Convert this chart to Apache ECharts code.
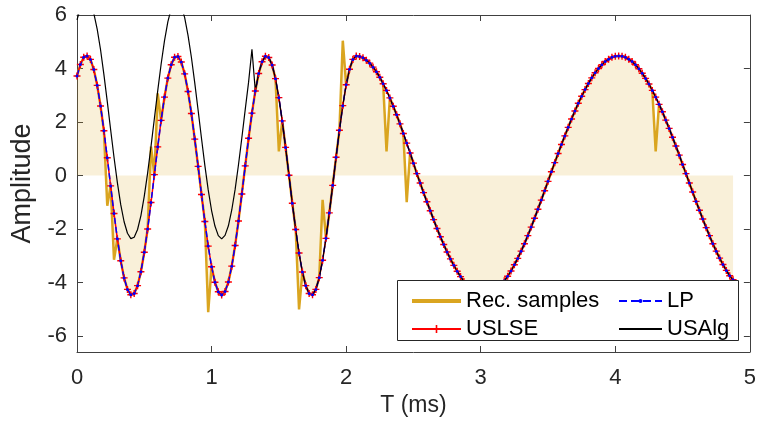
<!DOCTYPE html>
<html>
<head>
<meta charset="utf-8">
<script src="https://cdn.jsdelivr.net/npm/echarts@6/dist/echarts.min.js"></script>
<style>
  html, body { margin: 0; padding: 0; background: #fff; }
  #chart { width: 759px; height: 430px; }
</style>
</head>
<body>
<div id="chart"></div>
<script>
// time step between samples (ms)
const sampleStep = 0.025;

// LP / USLSE reconstruction (one value per sample)
const signal = [
  3.72, 4.15, 4.42, 4.47, 4.34, 3.96, 3.37, 2.60, 1.67, 0.66,
  -0.39, -1.42, -2.37, -3.19, -3.83, -4.26, -4.46, -4.41, -4.12, -3.60,
  -2.87, -2.00, -1.01, 0.03, 1.07, 2.06, 2.93, 3.64, 4.14, 4.42,
  4.45, 4.24, 3.80, 3.14, 2.32, 1.36, 0.34, -0.71, -1.72, -2.64,
  -3.41, -3.99, -4.35, -4.47, -4.34, -3.98, -3.39, -2.62, -1.70, -0.69,
  0.36, 1.39, 2.33, 3.16, 3.81, 4.25, 4.46, 4.41, 4.13, 3.62,
  2.91, 2.04, 1.05, 0.01, -1.04, -2.02, -2.90, -3.61, -4.12, -4.41,
  -4.46, -4.26, -3.82, -3.17, -2.35, -1.40, -0.37, 0.68, 1.69, 2.61,
  3.39, 3.97, 4.34, 4.47, 4.45, 4.40, 4.31, 4.20, 4.05, 3.88,
  3.67, 3.43, 3.18, 2.90, 2.59, 2.27, 1.93, 1.57, 1.21, 0.84,
  0.46, 0.07, -0.28, -0.64, -0.98, -1.32, -1.65, -1.98, -2.29, -2.58,
  -2.86, -3.12, -3.36, -3.58, -3.78, -3.96, -4.11, -4.23, -4.33, -4.39,
  -4.44, -4.45, -4.44, -4.39, -4.32, -4.22, -4.10, -3.94, -3.77, -3.57,
  -3.34, -3.10, -2.83, -2.55, -2.25, -1.93, -1.60, -1.26, -0.92, -0.57,
  -0.22, 0.14, 0.48, 0.82, 1.16, 1.48, 1.80, 2.11, 2.41, 2.70,
  2.96, 3.21, 3.44, 3.65, 3.84, 4.00, 4.14, 4.26, 4.35, 4.42,
  4.46, 4.47, 4.46, 4.42, 4.35, 4.26, 4.14, 3.99, 3.82, 3.63,
  3.42, 3.18, 2.93, 2.66, 2.38, 2.07, 1.76, 1.43, 1.10, 0.76,
  0.41, 0.07, -0.28, -0.62, -0.97, -1.30, -1.63, -1.95, -2.25, -2.55,
  -2.83, -3.09, -3.33, -3.55, -3.75, -3.90
];

// USAlg before it locks onto the signal (t = 0 .. 1.3 ms)
const usalgHead = [
  5.82, 6.25, 6.52, 6.57, 6.44, 6.06, 5.47, 4.70, 3.77, 2.76,
  1.71, 0.68, -0.27, -1.09, -1.73, -2.16, -2.36, -2.31, -2.02, -1.50,
  -0.77, 0.10, 1.09, 2.13, 3.17, 4.16, 5.03, 5.74, 6.24, 6.52,
  6.55, 6.34, 5.90, 5.24, 4.42, 3.46, 2.44, 1.39, 0.38, -0.54,
  -1.31, -1.89, -2.25, -2.37, -2.24, -1.88, -1.29, -0.52, 0.40, 1.41,
  2.46, 3.49, 4.72
];

// bad recovered samples (spikes)
const spikeTimes = [0.225, 0.275, 0.55, 0.6, 0.975, 1.5, 1.65, 1.825, 1.975, 2.3, 2.45, 4.3];
const spikeValues = [-1.13, -3.15, 1.08, 3.07, -5.11, 0.9, -5.01, -0.91, 5.04, 0.9, -1.0, 0.9];

const yTicks = [-6, -4, -2, 0, 2, 4, 6];

const times = signal.map((v, i) => +(i * sampleStep).toFixed(3));
const recValues = signal.slice();
spikeTimes.forEach((t, k) => { recValues[Math.round(t / sampleStep)] = spikeValues[k]; });

const recData = times.map((t, i) => [t, recValues[i]]);
const lpData = times.map((t, i) => [t, signal[i]]);
const uslseData = times.map((t, i) => [t, signal[i]]);
const usalgData = times.map((t, i) => [t, i < usalgHead.length ? usalgHead[i] : signal[i]]);

const font = 'Liberation Sans, Arial, Helvetica, sans-serif';
const axisCol = '#404040';
const plusSymbol = 'path://M4,0H6V10H4Z M0,4H10V6H0Z';
const legendText = { fontSize: 22, color: '#000', fontFamily: font, lineHeight: 24 };

const chart = echarts.init(document.getElementById('chart'));
chart.setOption({
  animation: false,
  backgroundColor: '#fff',
  grid: { left: 77, right: 8, top: 15, bottom: 78 },
  xAxis: [
    {
      type: 'value', min: 0, max: 5, interval: 1,
      name: 'T (ms)', nameLocation: 'middle', nameGap: 40,
      nameTextStyle: { fontSize: 23, color: '#262626', fontFamily: font },
      axisLine: { onZero: false, lineStyle: { color: axisCol } },
      axisTick: { inside: true, length: 6, lineStyle: { color: axisCol } },
      axisLabel: { fontSize: 22, color: '#262626', fontFamily: font, margin: 15 },
      splitLine: { show: false }
    },
    {
      type: 'value', min: 0, max: 5, interval: 1, position: 'top',
      axisLine: { onZero: false, lineStyle: { color: axisCol } },
      axisTick: { inside: true, length: 6, lineStyle: { color: axisCol } },
      axisLabel: { show: false },
      splitLine: { show: false }
    }
  ],
  yAxis: [
    {
      type: 'value', min: -6.6, max: 6,
      name: 'Amplitude', nameLocation: 'middle', nameGap: 40,
      nameTextStyle: { fontSize: 27, color: '#262626', fontFamily: font },
      axisLine: { show: true, onZero: false, lineStyle: { color: axisCol } },
      axisTick: { show: true, inside: true, length: 6, customValues: yTicks, lineStyle: { color: axisCol } },
      axisLabel: { fontSize: 22, color: '#262626', fontFamily: font, margin: 10, customValues: yTicks },
      splitLine: { show: false }
    },
    {
      type: 'value', min: -6.6, max: 6, position: 'right',
      axisLine: { show: true, onZero: false, lineStyle: { color: axisCol } },
      axisTick: { show: true, inside: true, length: 6, customValues: yTicks, lineStyle: { color: axisCol } },
      axisLabel: { show: false },
      splitLine: { show: false }
    }
  ],
  legend: [
    {
      data: [
        { name: 'Rec. samples', lineStyle: { width: 4 } },
        { name: 'USLSE' }
      ],
      orient: 'vertical', left: 405, top: 284, z: 20,
      itemWidth: 49, itemHeight: 10, itemGap: 4,
      textStyle: legendText
    },
    {
      data: ['LP', 'USAlg'],
      orient: 'vertical', left: 613, top: 284, z: 20,
      itemWidth: 43, itemHeight: 5, itemGap: 4,
      textStyle: legendText
    }
  ],
  graphic: [
    {
      type: 'rect', z: 10,
      shape: { x: 397.5, y: 280.5, width: 341, height: 60 },
      style: { fill: '#fff', stroke: '#262626', lineWidth: 1 }
    }
  ],
  series: [
    {
      name: 'Rec. samples', type: 'line', data: recData,
      symbol: 'none',
      lineStyle: { color: '#DAA520', width: 2.5 },
      itemStyle: { color: 'rgba(0,0,0,0)' },
      areaStyle: { color: 'rgba(218,165,32,0.24)', origin: 0 }
    },
    {
      name: 'USLSE', type: 'line', data: uslseData,
      symbol: plusSymbol, symbolSize: 7,
      lineStyle: { color: '#ff0000', width: 1.5 },
      itemStyle: { color: '#ff0000' }
    },
    {
      name: 'LP', type: 'line', data: lpData,
      symbol: 'circle', symbolSize: 3,
      lineStyle: { color: '#0000ff', width: 1.5, type: 'dashed' },
      itemStyle: { color: '#0000ff' }
    },
    {
      name: 'USAlg', type: 'line', data: usalgData,
      symbol: 'none',
      lineStyle: { color: '#000', width: 1.2 },
      itemStyle: { color: 'rgba(0,0,0,0)' }
    }
  ]
});
</script>
</body>
</html>
